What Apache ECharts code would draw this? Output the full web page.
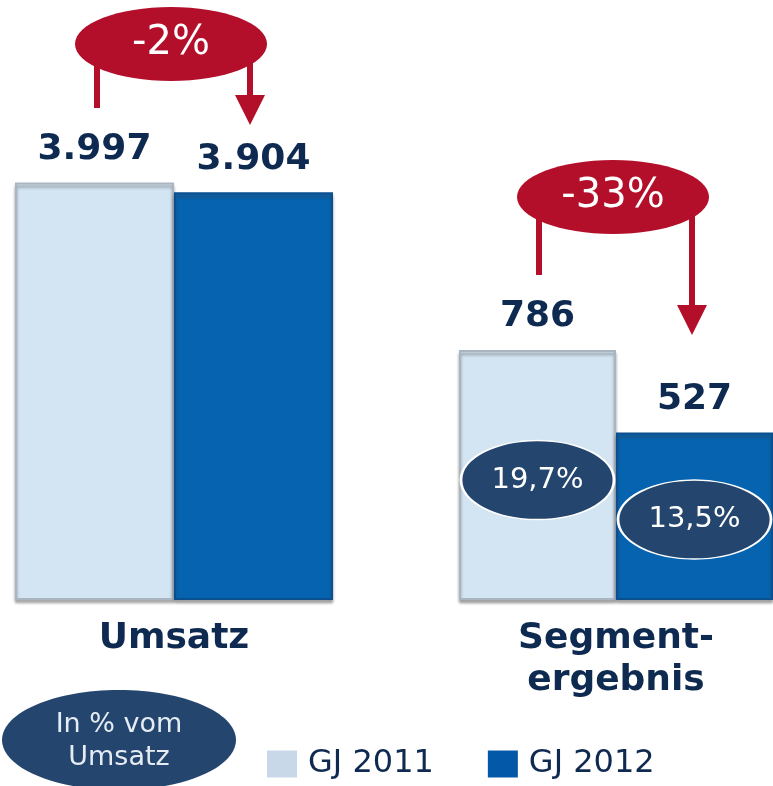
<!DOCTYPE html>
<html>
<head>
<meta charset="utf-8">
<script src="https://cdn.jsdelivr.net/npm/echarts@6/dist/echarts.min.js"></script>
<style>
html, body { margin: 0; padding: 0; background: #fff; }
#chart { width: 773px; height: 786px; }
</style>
</head>
<body>
<div id="chart"></div>
<script>
// data
const categories = ['Umsatz', 'Segment-\nergebnis'];
const seriesNames = ['GJ 2011', 'GJ 2012'];
const gj2011 = [3997, 786];
const gj2012 = [3904, 527];
const margin2011 = [null, 19.7];   // in % vom Umsatz
const margin2012 = [null, 13.5];
const marginNote = 'In % vom\nUmsatz';

// layout
const yMax = [4500, 1000];
const gridTop = [130, 282];
const gridLeft = [15, 459];
const arrowLayout = [
    { cy: 44, stubEnd: 108, tip: 125 },
    { cy: 197, stubEnd: 275, tip: 335 }
];

const navy = '#0e2a50';
const red = '#b30e2a';
const lightBar = '#d3e4f2';
const darkBar = '#0563b0';
const ovalBlue = '#24466e';

function fmtDe(v) {
    return String(v).replace(/\B(?=(\d{3})+(?!\d))/g, '.');
}
function fmtPct(v) {
    return v.toFixed(1).replace('.', ',') + '%';
}

var chartDom = document.getElementById('chart');
var myChart = echarts.init(chartDom);

var grids = [], xAxes = [], yAxes = [], series = [];
categories.forEach(function (cat, i) {
    grids.push({ left: gridLeft[i], width: 318, top: gridTop[i], bottom: 186 });
    xAxes[i] = {
        type: 'category',
        gridIndex: i,
        data: [cat],
        axisLine: { show: false },
        axisTick: { show: false },
        axisLabel: {
            margin: 18,
            color: navy,
            fontFamily: 'DejaVu Sans',
            fontWeight: 'bold',
            fontSize: 36,
            lineHeight: 42
        }
    };
    xAxes[2 + i] = {
        type: 'value', gridIndex: i, min: 0, max: 2, show: false
    };
    yAxes.push({
        type: 'value', gridIndex: i, min: 0, max: yMax[i], show: false
    });

    var valueLabel = {
        show: true,
        position: 'top',
        distance: 15,
        color: navy,
        fontFamily: 'DejaVu Sans',
        fontWeight: 'bold',
        fontSize: 36,
        formatter: function (p) { return fmtDe(p.value); }
    };
    var shadow = { shadowColor: 'rgba(60,60,60,0.45)', shadowBlur: 3, shadowOffsetY: 3 };

    series.push({
        name: seriesNames[0],
        type: 'bar',
        xAxisIndex: i,
        yAxisIndex: i,
        barGap: 0,
        barCategoryGap: 0,
        data: [gj2011[i]],
        itemStyle: Object.assign({ color: lightBar, borderColor: '#a9b6c2', borderWidth: 2 }, shadow),
        label: valueLabel
    });
    series.push({
        name: seriesNames[1],
        type: 'bar',
        xAxisIndex: i,
        yAxisIndex: i,
        barGap: 0,
        barCategoryGap: 0,
        data: [gj2012[i]],
        itemStyle: Object.assign({ color: darkBar, borderColor: '#0b4f8e', borderWidth: 2 }, shadow),
        label: valueLabel
    });

    // ovals with the margin, sitting inside the bars
    var pts = [];
    if (margin2011[i] != null) pts.push({ value: [0.5, gj2011[i] * 0.48], txt: fmtPct(margin2011[i]) });
    if (margin2012[i] != null) pts.push({ value: [1.5, gj2012[i] * 0.48], txt: fmtPct(margin2012[i]) });
    if (pts.length) {
        series.push({
            type: 'scatter',
            xAxisIndex: 2 + i,
            yAxisIndex: i,
            symbol: 'circle',
            symbolSize: [153, 79],
            clip: false,
            z: 5,
            itemStyle: { color: ovalBlue, borderColor: '#fff', borderWidth: 2, opacity: 1 },
            label: {
                show: true,
                position: 'inside',
                color: '#fff',
                fontFamily: 'DejaVu Sans',
                fontSize: 29,
                formatter: function (p) { return p.data.txt; }
            },
            data: pts
        });
    }
});

myChart.setOption({
    animation: false,
    grid: grids,
    xAxis: xAxes,
    yAxis: yAxes,
    legend: {
        left: 262,
        top: 743,
        icon: 'rect',
        itemWidth: 30,
        itemHeight: 27,
        itemGap: 54,
        data: [
            { name: seriesNames[0], itemStyle: { color: '#c8d8e8', borderWidth: 0, shadowBlur: 0, shadowOffsetY: 0 } },
            { name: seriesNames[1], itemStyle: { color: '#0458a8', borderWidth: 0, shadowBlur: 0, shadowOffsetY: 0 } }
        ],
        textStyle: {
            color: navy,
            fontFamily: 'DejaVu Sans',
            fontSize: 32,
            padding: [0, 0, 0, 6]
        }
    },
    series: series
});

// change arrows and the note oval
var graphics = [];
categories.forEach(function (cat, i) {
    var c = myChart.convertToPixel({ xAxisIndex: 2 + i, yAxisIndex: i }, [1, 0])[0];
    var a = arrowLayout[i];
    var change = Math.round((gj2012[i] / gj2011[i] - 1) * 100) + '%';
    var xl = c - 77, xr = c + 76;
    graphics.push({
        type: 'line', z: 10,
        shape: { x1: xl, y1: a.cy + 10, x2: xl, y2: a.stubEnd },
        style: { stroke: red, lineWidth: 6 }
    });
    graphics.push({
        type: 'line', z: 10,
        shape: { x1: xr, y1: a.cy + 10, x2: xr, y2: a.tip - 28 },
        style: { stroke: red, lineWidth: 6 }
    });
    graphics.push({
        type: 'polygon', z: 10,
        shape: { points: [[xr - 15, a.tip - 30], [xr + 15, a.tip - 30], [xr, a.tip]] },
        style: { fill: red }
    });
    graphics.push({
        type: 'ellipse', z: 11,
        shape: { cx: c - 3, cy: a.cy, rx: 96, ry: 37 },
        style: { fill: red }
    });
    graphics.push({
        type: 'text', z: 12,
        x: c - 3, y: a.cy,
        style: {
            text: change, fill: '#fff', font: '40px "DejaVu Sans"',
            align: 'center', verticalAlign: 'middle'
        }
    });
});
graphics.push({
    type: 'ellipse', z: 10,
    shape: { cx: 119, cy: 740, rx: 117, ry: 50 },
    style: { fill: ovalBlue }
});
graphics.push({
    type: 'text', z: 11,
    x: 119, y: 741,
    style: {
        text: marginNote, fill: '#e6ecf3', font: '27px "DejaVu Sans"',
        lineHeight: 33, align: 'center', verticalAlign: 'middle'
    }
});
myChart.setOption({ graphic: graphics });
</script>
</body>
</html>
